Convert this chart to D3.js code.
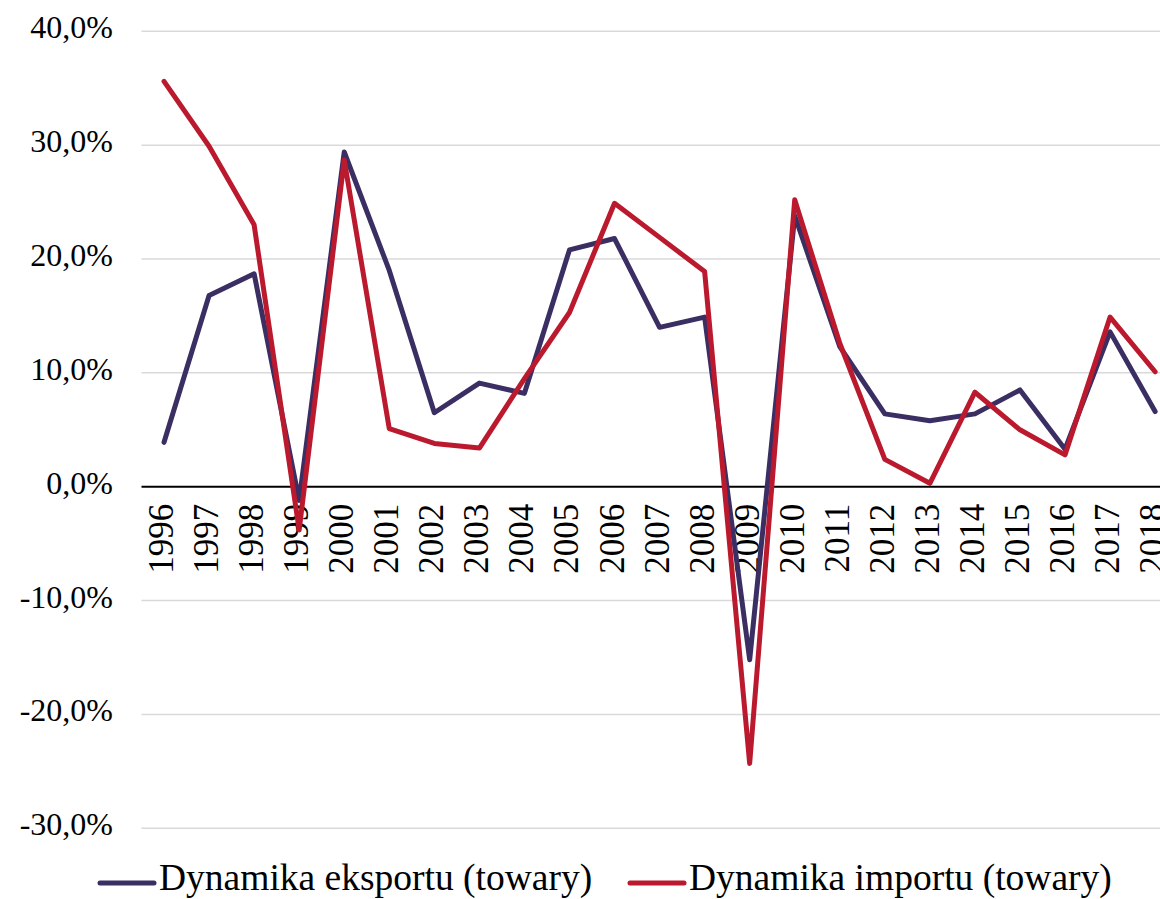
<!DOCTYPE html>
<html>
<head>
<meta charset="utf-8">
<script src="https://cdn.jsdelivr.net/npm/d3@7"></script>
<style>
  html, body { margin: 0; padding: 0; background: #fff; }
  svg { display: block; }
</style>
</head>
<body>
<div id="chart"></div>
<script>
const years = ["1996","1997","1998","1999","2000","2001","2002","2003","2004","2005","2006","2007","2008","2009","2010","2011","2012","2013","2014","2015","2016","2017","2018"];
const exportDyn = [3.9, 16.8, 18.7, -1.2, 29.4, 19.0, 6.5, 9.1, 8.2, 20.8, 21.8, 14.0, 14.9, -15.2, 23.8, 12.3, 6.4, 5.8, 6.4, 8.5, 3.3, 13.6, 6.6];
const importDyn = [35.6, 29.9, 23.0, -3.8, 28.7, 5.1, 3.8, 3.4, 9.5, 15.3, 24.9, 21.9, 18.9, -24.3, 25.2, 12.6, 2.4, 0.3, 8.3, 5.0, 2.8, 14.9, 10.1];
const yTicks = [-30, -20, -10, 0, 10, 20, 30, 40];
const seriesNames = ["Dynamika eksportu (towary)", "Dynamika importu (towary)"];
const seriesColors = ["#3b2e63", "#bb1a2e"];

const W = 1160, H = 899;
const svg = d3.select("#chart").append("svg").attr("width", W).attr("height", H);

const x = d3.scaleBand().domain(years).range([141.5, 141.5 + 23 * 45.05]).paddingInner(0).paddingOuter(0);
const y = d3.scaleLinear().domain([-30, 40]).range([828.3, 31.3]);
const cx = d => x(d) + x.bandwidth() / 2;

const fmt = v => d3.format(".1f")(v).replace(".", ",").replace("\u2212", "-") + "%";

// gridlines
svg.append("g").selectAll("line").data(yTicks.filter(t => t !== 0)).join("line")
  .attr("x1", 141.5).attr("x2", W)
  .attr("y1", d => y(d)).attr("y2", d => y(d))
  .attr("stroke", "#d9d9d9").attr("stroke-width", 1.5);

// y labels
svg.append("g").selectAll("text").data(yTicks).join("text")
  .attr("x", 113).attr("y", d => y(d) + 7)
  .attr("text-anchor", "end")
  .attr("font-family", "'Liberation Serif', 'Times New Roman', serif")
  .attr("font-size", 32).attr("fill", "#000")
  .text(fmt);

// zero line
svg.append("line").attr("x1", 141.5).attr("x2", W).attr("y1", y(0)).attr("y2", y(0))
  .attr("stroke", "#000").attr("stroke-width", 2.2);

// x labels
svg.append("g").selectAll("text").data(years).join("text")
  .attr("transform", d => `translate(${cx(d) + 9},${y(0) + 17}) rotate(-90)`)
  .attr("text-anchor", "end")
  .attr("font-family", "'Liberation Serif', 'Times New Roman', serif")
  .attr("font-size", 35).attr("fill", "#000")
  .text(d => d);

// lines
const line = d3.line().x((d, i) => cx(years[i])).y(d => y(d)).curve(d3.curveLinear);
[exportDyn, importDyn].forEach((s, i) => {
  svg.append("path").datum(s).attr("d", line)
    .attr("fill", "none").attr("stroke", seriesColors[i]).attr("stroke-width", 5)
    .attr("stroke-linejoin", "round").attr("stroke-linecap", "round");
});

// legend
const legendX = [100, 630];
seriesNames.forEach((name, i) => {
  const g = svg.append("g");
  g.append("line").attr("x1", legendX[i]).attr("x2", legendX[i] + 54)
    .attr("y1", 883).attr("y2", 883)
    .attr("stroke", seriesColors[i]).attr("stroke-width", 5).attr("stroke-linecap", "round");
  g.append("text").attr("x", legendX[i] + 59).attr("y", 890)
    .attr("font-family", "'Liberation Serif', 'Times New Roman', serif")
    .attr("font-size", 37.5).attr("fill", "#000")
    .text(name);
});
</script>
</body>
</html>
